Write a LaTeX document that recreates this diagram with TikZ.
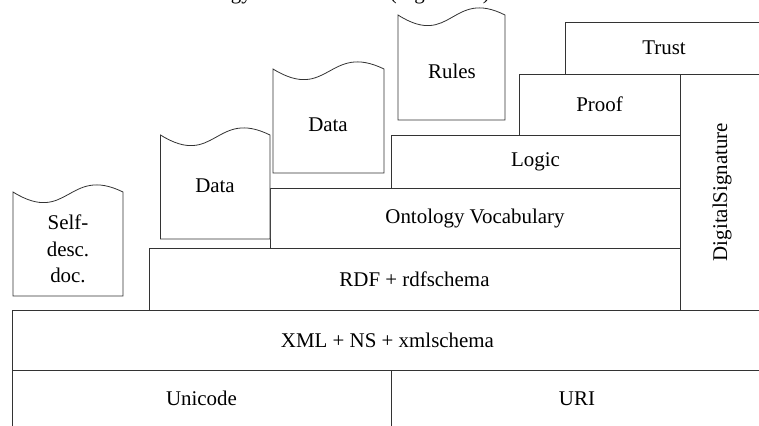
\documentclass[tikz,border=0pt]{standalone}
\usepackage{fontspec}
\setmainfont{Liberation Serif}
\begin{document}
\begin{tikzpicture}[x=1bp,y=-1bp,
  txt/.style={font=\fontsize{21}{26.5}\selectfont, text=black, inner sep=0pt},
  layer/.style={txt, draw=black!80, line width=0.8bp, anchor=north west,
    outer sep=0pt, rectangle},
  docline/.style={draw=black!80, line width=0.8bp, fill=white, line join=miter}]
\useasboundingbox (0,0) rectangle (759,425);
\clip (0,0) rectangle (759,425);

% caption line above the stack, cut by the page edge
\node[txt, anchor=base east] (title) at (490,-1)
  {Technology Architecture\hspace{1.1em} (Figure 1.1)};

% layer stack: \stacklayer{name}{left}{top}{width}{height}{text}
\newcommand{\stacklayer}[6]{%
  \node[layer, minimum width=#4bp, minimum height=#5bp] (#1) at (#2,#3) {#6};}
\stacklayer{unicode}{12}{370}{379}{57}{Unicode}
\stacklayer{uri}{391}{370}{372}{57}{URI}
\stacklayer{xml}{12}{310}{751}{60}{XML + NS + xmlschema}
\stacklayer{rdf}{149}{248}{531}{62}{RDF + rdfschema}
\stacklayer{onto}{270}{188}{410}{60}{Ontology Vocabulary}
\stacklayer{logic}{391}{135}{289}{53}{Logic}
\stacklayer{proof}{519}{74}{161}{61}{Proof}
\stacklayer{trust}{565}{22}{198}{52}{Trust}
\node[layer, anchor=center, rotate=90, minimum width=236bp, minimum height=84bp]
  (sig) at (722,192) {DigitalSignature};

% document sheets with a wavy top edge: \docsheet{left}{top}{width}{height}
\newcommand{\docsheet}[4]{%
  \draw[docline] (#1,#2) .. controls (#1+0.5*#3,#2+34) and (#1+0.5*#3,#2-27) ..
    (#1+#3,#2) -- (#1+#3,#2+#4) -- (#1,#2+#4) -- cycle;}
\docsheet{13}{192}{110}{104}
\docsheet{160.5}{135}{109.5}{104}
\docsheet{273}{69}{111}{104}
\docsheet{398}{15}{107}{105}

\node[txt, align=center] (selfdoc) at (68,249) {Self-\\desc.\\doc.};
\node[txt] (data1) at (215,186) {Data};
\node[txt] (data2) at (328,125) {Data};
\node[txt] (rules) at (452,71) {Rules};
\end{tikzpicture}
\end{document}
